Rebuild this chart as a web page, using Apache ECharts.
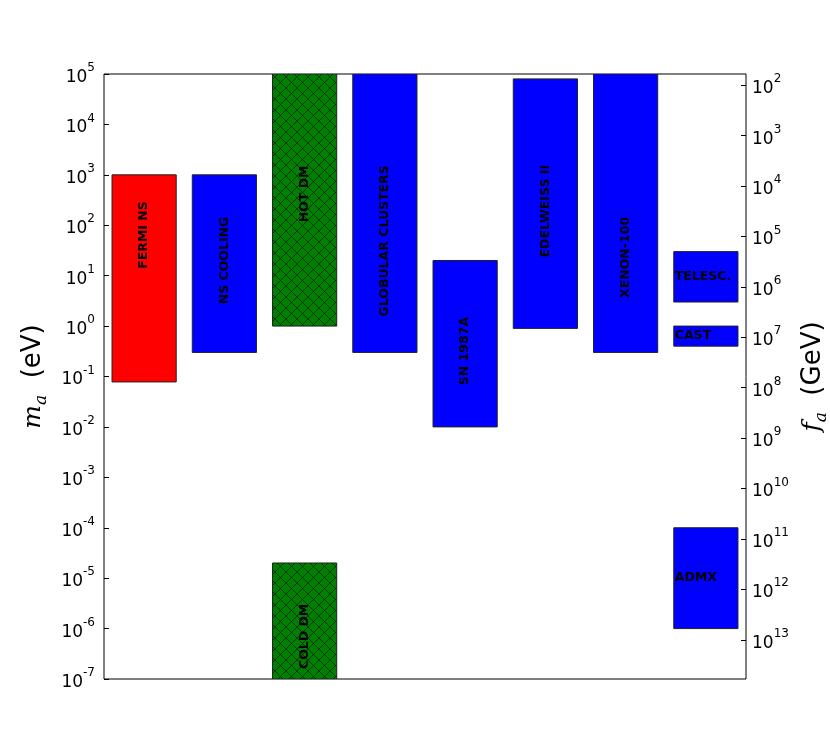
<!DOCTYPE html>
<html>
<head>
<meta charset="utf-8">
<script src="https://cdn.jsdelivr.net/npm/echarts@6/dist/echarts.min.js"></script>
<style>
  html, body { margin: 0; padding: 0; background: #fff; }
  #chart { width: 830px; height: 755px; }
</style>
</head>
<body>
<div id="chart"></div>
<script>
// columns along x (labels hidden in the figure)
const columns = ['FERMI NS', 'NS COOLING', 'DM', 'GLOBULAR CLUSTERS', 'SN 1987A', 'EDELWEISS II', 'XENON-100', 'EXPERIMENTS'];

// each excluded / allowed range of the axion mass (eV)
const rangeNames = ['FERMI NS', 'NS COOLING', 'HOT DM', 'COLD DM', 'GLOBULAR CLUSTERS', 'SN 1987A', 'EDELWEISS II', 'XENON-100', 'TELESC.', 'CAST', 'ADMX'];
const rangeColumn = [0, 1, 2, 2, 3, 4, 5, 6, 7, 7, 7];
const massLow = [0.078, 0.3, 1, 1e-7, 0.3, 0.01, 0.9, 0.3, 3, 0.4, 1e-6];
const massHigh = [1e3, 1e3, 1e5, 2e-5, 1e5, 20, 8e4, 1e5, 30, 1, 1e-4];
// where the rotated label sits (eV); null = horizontal label at the bar's left edge
const labelMass = [64, 20, 420, 7e-7, 49, 0.32, 190, 23, null, null, null];
const rangeKind = ['red', 'blue', 'dm', 'dm', 'blue', 'blue', 'blue', 'blue', 'blue', 'blue', 'blue'];

// f_a (GeV) = faScale / m_a (eV)
const faScale = 6e6;
const massMin = 1e-7;
const massMax = 1e5;
const faTicks = [1e2, 1e3, 1e4, 1e5, 1e6, 1e7, 1e8, 1e9, 1e10, 1e11, 1e12, 1e13];

const chart = echarts.init(document.getElementById('chart'));

// crosshatch pattern for the dark matter bars
const hatch = document.createElement('canvas');
hatch.width = 11;
hatch.height = 11;
const hctx = hatch.getContext('2d');
hctx.fillStyle = '#008000';
hctx.fillRect(0, 0, 11, 11);
hctx.strokeStyle = 'rgba(0,0,0,0.7)';
hctx.lineWidth = 0.8;
hctx.beginPath();
hctx.moveTo(0, 0); hctx.lineTo(11, 11);
hctx.moveTo(0, 11); hctx.lineTo(11, 0);
hctx.stroke();

const fills = {
  red: '#ff0000',
  blue: '#0000ff',
  dm: { image: hatch, repeat: 'repeat' }
};

const powLabel = (v) => {
  const e = Math.round(Math.log10(v));
  return '{b|10}{s|' + e + '}';
};
const powRich = {
  b: { fontSize: 17, fontFamily: 'DejaVu Sans', color: '#000', lineHeight: 24, verticalAlign: 'bottom' },
  s: { fontSize: 12, fontFamily: 'DejaVu Sans', color: '#000', lineHeight: 24, verticalAlign: 'top' }
};
const nameRich = {
  m: { fontSize: 25, fontFamily: 'DejaVu Serif', fontStyle: 'italic', color: '#000', lineHeight: 30, verticalAlign: 'top' },
  a: { fontSize: 17, fontFamily: 'DejaVu Serif', fontStyle: 'italic', color: '#000', lineHeight: 30, verticalAlign: 'bottom' },
  t: { fontSize: 26, fontFamily: 'DejaVu Sans', color: '#000', lineHeight: 30, verticalAlign: 'top' }
};

const seriesData = rangeNames.map((n, i) => [rangeColumn[i], massLow[i], massHigh[i], i]);
const labelFont = 'bold 12.5px "DejaVu Sans"';

function renderItem(params, api) {
  const col = api.value(0);
  const i = api.value(3);
  const top = api.coord([col, api.value(2)]);
  const bot = api.coord([col, api.value(1)]);
  const w = api.size([1, 1])[0] * 0.8;
  const left = top[0] - w / 2;
  const children = [{
    type: 'rect',
    shape: { x: left, y: top[1], width: w, height: bot[1] - top[1] },
    style: { fill: fills[rangeKind[i]], stroke: '#222', lineWidth: 1 }
  }];
  if (labelMass[i] != null) {
    const p = api.coord([col, labelMass[i]]);
    children.push({
      type: 'text',
      x: p[0],
      y: p[1],
      rotation: Math.PI / 2,
      style: { text: rangeNames[i], fill: '#000', font: labelFont, align: 'center', verticalAlign: 'middle' }
    });
  } else {
    children.push({
      type: 'text',
      x: left + 1,
      y: (top[1] + bot[1]) / 2,
      style: { text: rangeNames[i], fill: '#000', font: labelFont, align: 'left', verticalAlign: 'middle' }
    });
  }
  return { type: 'group', children: children };
}

const option = {
  animation: false,
  backgroundColor: '#fff',
  grid: {
    left: 104,
    right: 84,
    top: 74,
    bottom: 76,
    outerBoundsMode: 'none',
    containLabel: false,
    show: true,
    borderColor: '#000',
    borderWidth: 1,
    backgroundColor: 'transparent'
  },
  xAxis: {
    type: 'category',
    data: columns,
    axisLine: { show: false },
    axisTick: { show: false },
    axisLabel: { show: false },
    splitLine: { show: false }
  },
  yAxis: [
    {
      type: 'log',
      position: 'left',
      min: massMin,
      max: massMax,
      interval: 1,
      axisLine: { show: false },
      axisTick: { show: true, inside: true, length: 5, lineStyle: { color: '#000' } },
      splitLine: { show: false },
      minorTick: { show: false },
      axisLabel: { margin: 9, formatter: powLabel, rich: powRich },
      name: '{m|m}{a|a}{t|  (eV)}',
      nameLocation: 'middle',
      nameRotate: 90,
      nameGap: 51,
      nameTextStyle: { rich: nameRich }
    },
    {
      type: 'log',
      position: 'right',
      inverse: true,
      min: faScale / massMax,
      max: faScale / massMin,
      axisLine: { show: false },
      axisTick: { show: true, inside: true, length: 5, lineStyle: { color: '#000' }, customValues: faTicks },
      splitLine: { show: false },
      minorTick: { show: false },
      axisLabel: { margin: 6, formatter: powLabel, rich: powRich, customValues: faTicks },
      name: '{m|f}{a|a}{t|  (GeV)}',
      nameLocation: 'middle',
      nameRotate: 90,
      nameGap: 50,
      nameTextStyle: { rich: nameRich }
    }
  ],
  series: [
    {
      type: 'custom',
      xAxisIndex: 0,
      yAxisIndex: 0,
      renderItem: renderItem,
      encode: { x: 0, y: [1, 2] },
      data: seriesData,
      clip: true
    }
  ]
};

chart.setOption(option);
</script>
</body>
</html>
